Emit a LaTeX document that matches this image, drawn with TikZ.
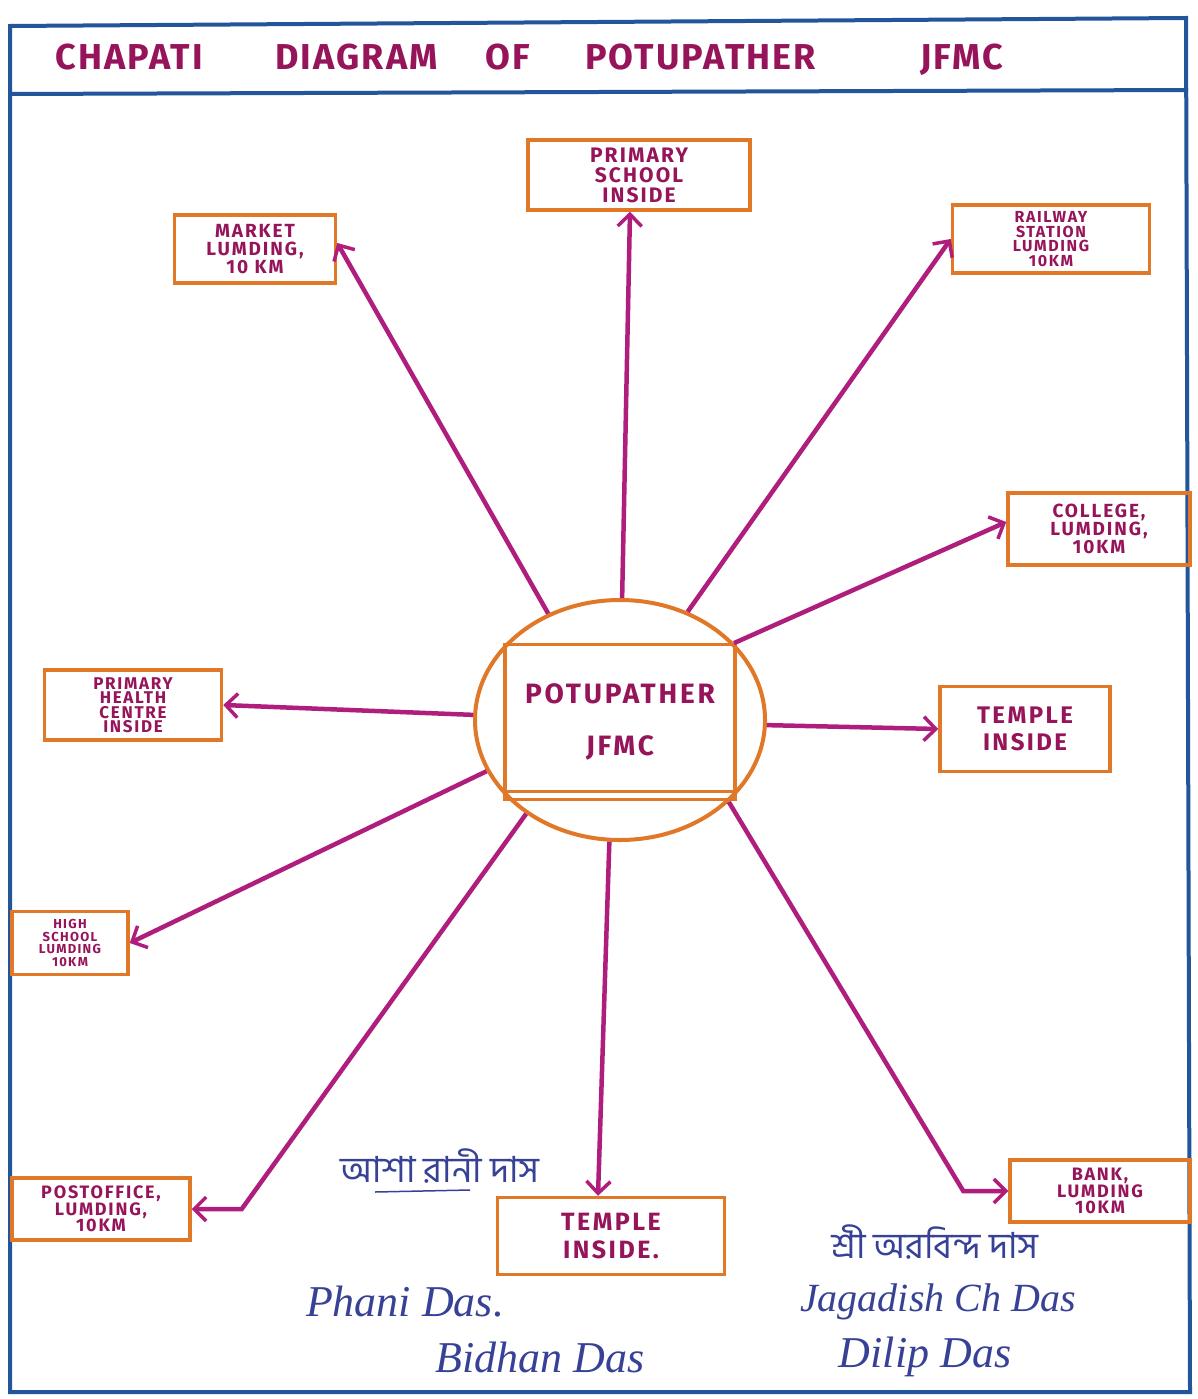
\documentclass[tikz,border=0pt]{standalone}
\usepackage{fontspec}
\setmainfont{Fira Sans}
\newfontfamily\capfont[LetterSpace=10]{Fira Sans}
\newfontfamily\titlefont[LetterSpace=6]{Fira Sans}
\newfontfamily\inkfont{Liberation Serif}
\newfontfamily\bnfont[Script=Bengali]{Hind Siliguri}
\usetikzlibrary{arrows.meta,shapes.geometric}
\definecolor{framblue}{RGB}{35,85,155}
\definecolor{rimorange}{RGB}{225,120,40}
\definecolor{linkpink}{RGB}{175,30,125}
\definecolor{capred}{RGB}{150,20,90}
\definecolor{penblue}{RGB}{55,65,150}
\tikzset{
	place/.style={draw=rimorange,line width=3.5pt,text=capred,align=center,inner sep=1pt,
		font=\capfont\bfseries\fontsize{19}{18}\selectfont},
	link/.style={draw=linkpink,line width=4.5pt,-{Straight Barb[length=12pt,width=24pt,line width=3.5pt]}},
	sign/.style={text=penblue,font=\inkfont\itshape\fontsize{44}{44}\selectfont},
	bnsign/.style={text=penblue,font=\bnfont\fontsize{36}{36}\selectfont}
}
\begin{document}
\begin{tikzpicture}[x=1pt,y=-1pt]
		\useasboundingbox[fill=white] (0,0) rectangle (1198,1399);
		\draw[framblue,line width=4pt] (10,26) -- (1186,18) -- (1190,1392) -- (10,1392) -- cycle;
		\draw[framblue,line width=4pt] (10,94) -- (1188,90);
		\node[anchor=west,inner sep=0pt,text=capred,font=\titlefont\bfseries\fontsize{36}{36}\selectfont] (title) at (55,60)
			{\makebox[220pt][l]{CHAPATI}\makebox[210pt][l]{DIAGRAM}\makebox[100pt][l]{OF}\makebox[335pt][l]{POTUPATHER}JFMC};
		\node[draw=rimorange,line width=4pt,ellipse,minimum width=290pt,minimum height=240pt] (hub) at (620,720) {};
		\node[place,minimum width=230pt,minimum height=155pt,font=\capfont\bfseries\fontsize{28}{52}\selectfont] (hubbox) at (620,722) {POTUPATHER\\JFMC};
		\draw[rimorange,line width=3.5pt] ([yshift=10pt]hubbox.south west) -- ([yshift=10pt]hubbox.south east);
		\node[place,minimum width=222pt,minimum height=70pt,font=\capfont\bfseries\fontsize{21}{20}\selectfont] (school) at (639,175) {PRIMARY\\SCHOOL\\INSIDE};
		\node[place,minimum width=161pt,minimum height=68pt] (market) at (255,249) {MARKET\\LUMDING,\\10 KM};
		\node[place,minimum width=197pt,minimum height=68pt,font=\capfont\bfseries\fontsize{16}{14.5}\selectfont] (railway) at (1051,239) {RAILWAY\\STATION\\LUMDING\\10KM};
		\node[place,minimum width=182pt,minimum height=72pt] (college) at (1099,529) {COLLEGE,\\LUMDING,\\10KM};
		\node[place,minimum width=170pt,minimum height=85pt,font=\capfont\bfseries\fontsize{24}{27}\selectfont] (templeR) at (1025,729) {TEMPLE\\INSIDE};
		\node[place,minimum width=177pt,minimum height=70pt,font=\capfont\bfseries\fontsize{17}{14.5}\selectfont] (phc) at (133,705) {PRIMARY\\HEALTH\\CENTRE\\INSIDE};
		\node[place,minimum width=116pt,minimum height=63pt,font=\capfont\bfseries\fontsize{13}{12.5}\selectfont] (high) at (70,943) {HIGH\\SCHOOL\\LUMDING\\10KM};
		\node[place,minimum width=178pt,minimum height=62pt,font=\capfont\bfseries\fontsize{18}{16.5}\selectfont] (post) at (101,1209) {POSTOFFICE,\\LUMDING,\\10KM};
		\node[place,minimum width=227pt,minimum height=77pt,font=\capfont\bfseries\fontsize{25}{28}\selectfont] (templeB) at (611,1236) {TEMPLE\\INSIDE.};
		\node[place,minimum width=180pt,minimum height=62pt,font=\capfont\bfseries\fontsize{18}{16.5}\selectfont] (bank) at (1100,1191) {BANK,\\LUMDING\\10KM};
		\draw[link] (hub.89) -- ([xshift=-9pt]school.south);
		\draw[link] (hub.124) -- ([yshift=6pt]market.east);
		\draw[link] (hub.58) -- (railway.west);
		\draw[link] (hub.34) -- ([yshift=7pt]college.west);
		\draw[link] (hub.-2) -- (templeR.west);
		\draw[link] (hub.178) -- (phc.east);
		\draw[link] (hub.201) -- (high.east);
		\draw[link] (hub.225) -- ([xshift=50pt]post.east) -- (post.east);
		\draw[link] (hub.265) -- ([xshift=-13pt]templeB.north);
		\draw[link] (hub.323) -- ([xshift=-45pt]bank.west) -- (bank.west);
		\node[bnsign] (signa) at (440,1166) {আশা রানী দাস};
		\draw[penblue,line width=1.5pt] (375,1192) -- (470,1190);
		\node[sign] (signb) at (405,1302) {Phani Das.};
		\node[sign] (signc) at (540,1357) {Bidhan Das};
		\node[bnsign] (signd) at (935,1242) {শ্রী অরবিন্দ দাস};
		\node[sign,font=\inkfont\itshape\fontsize{40}{40}\selectfont] (signe) at (938,1302) {Jagadish Ch Das};
		\node[sign] (signf) at (925,1357) {Dilip Das};
	\end{tikzpicture}
\end{document}
